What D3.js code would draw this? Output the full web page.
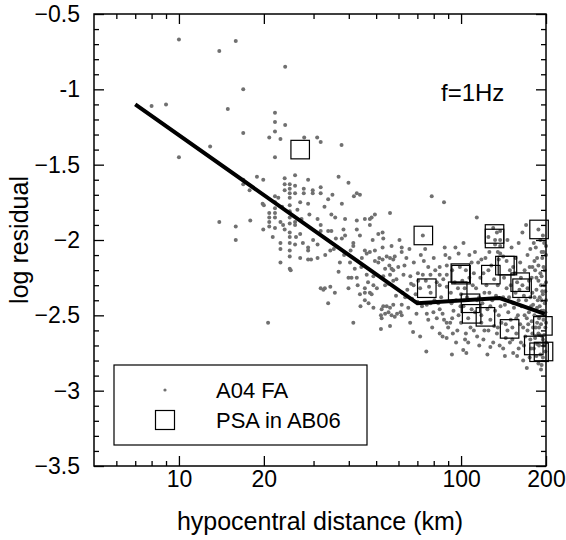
<!DOCTYPE html>
<html><head><meta charset="utf-8">
<script src="https://cdn.jsdelivr.net/npm/d3@7"></script>
<style>body{margin:0;background:#fff}svg text{font-family:"Liberation Sans",Arial,Helvetica,sans-serif;fill:#000}</style>
</head><body><svg id="c" width="566" height="540"></svg>
<script>
// ---- data ----
const xMajorTicks = [10, 20, 100, 200];
const xMinorTicks = [6, 7, 8, 9, 30, 40, 50, 60, 70, 80, 90];
const yMajorTicks = [-0.5, -1, -1.5, -2, -2.5, -3, -3.5];
const yTickLabels = ["\u22120.5", "-1", "\u22121.5", "\u22122", "\u22122.5", "\u22123", "\u22123.5"];
const yMinorTicks = [-0.6,-0.7,-0.8,-0.9,-1.1,-1.2,-1.3,-1.4,-1.6,-1.7,-1.8,-1.9,-2.1,-2.2,-2.3,-2.4,-2.6,-2.7,-2.8,-2.9,-3.1,-3.2,-3.3,-3.4];
const xTitle = "hypocentral distance (km)";
const yTitle = "log residual";
const annotation = "f=1Hz";
const legendLabels = ["A04 FA", "PSA in AB06"];

// A04 FA points: [distance km, log residual]
const faPoints = [
[8.0,-1.11],[9.0,-1.10],[10,-0.67],[10,-1.45],[12.9,-1.38],[13.9,-0.745],[14.9,-1.13],[15.9,-0.68],[16.9,-1.0],[16.9,-1.29],
[13.9,-1.88],[15.9,-1.91],[15.9,-2.0],[16.9,-1.60],[16.9,-1.63],[17.8,-1.67],[17.9,-1.87],[20.7,-2.55],
[18.9,-1.58],[19.9,-1.60],[19.8,-1.76],[20,-1.77],[20.9,-1.85],[20.9,-1.88],[20.9,-1.91],[21.9,-1.71],[21.9,-1.75],[21.9,-1.79],
[21.9,-1.82],[21.9,-1.85],[21.9,-1.92],[21.9,-1.155],[21.9,-1.217],[21.9,-1.28],[21.9,-1.45],[23.8,-1.237],[20.9,-1.32],[22.9,-1.33],
[23.8,-0.85],[22.9,-1.88],[23.4,-1.90],[23.7,-1.93],[22.9,-2.02],[22.9,-2.06],[22.9,-2.15],[23.7,-1.59],[23.7,-1.63],[23.7,-1.67],
[24.7,-1.63],[24.7,-1.66],[24.7,-1.69],[24.7,-1.72],[24.7,-1.77],[24.7,-1.81],[24.7,-1.85],[24.7,-1.89],[24.7,-1.95],[24.7,-1.98],
[24.7,-2.02],[24.7,-2.07],[24.7,-2.11],[24.7,-2.19],[24.9,-2.2],[25.8,-1.57],[25.8,-1.64],[25.8,-1.69],[25.8,-1.88],[25.8,-1.90],
[25.8,-2.03],[26.9,-1.75],[26.9,-1.96],[26.9,-2.12],[27.7,-1.66],[27.7,-1.69],[27.8,-1.32],[28.7,-1.6],[28.7,-1.76],[28.7,-2.05],
[28.7,-2.07],[28.7,-2.13],[29.8,-1.67],[29.8,-1.69],[29.9,-2.0],[29.4,-2.13],[20.9,-1.82],[19.9,-1.93],[22.5,-1.72],[26.3,-1.8],
[27.2,-1.86],[23.2,-1.78],[26,-1.98],[27.5,-2.02],[21.5,-1.98],[29,-1.83],
[30.9,-1.32],[31.8,-1.35],[37.7,-1.37],[31,-1.86],[31,-2.03],[31.8,-1.65],[31.8,-1.69],[31.8,-1.90],[31.8,-1.94],[31,-2.12],
[33.8,-1.73],[33.8,-1.94],[34.7,-1.94],[34.7,-1.83],[35.8,-1.85],[34.4,-2.07],[35.4,-2.06],[36.8,-1.58],[37.2,-2.15],[36.8,-2.21],
[31.8,-2.32],[32.9,-2.32],[34.4,-2.31],[33.8,-2.42],[32.5,-2.33],[35.7,-2.35],[32.8,-1.78],[36,-1.99],[33,-2.1],[35,-1.7],
[39.9,-1.62],[42.7,-1.69],[43.8,-1.70],[41.7,-1.71],[37.8,-1.76],[38.8,-1.86],[42.7,-1.87],[45.6,-1.86],[47.5,-1.86],[47.5,-1.90],
[48.2,-1.85],[49.5,-1.83],[38.3,-1.93],[38.8,-1.97],[37.8,-1.99],[42.7,-1.93],[43.8,-1.97],[41.5,-2.02],[41.5,-2.04],[48.6,-2.0],
[40.6,-2.07],[45.6,-2.07],[46.3,-2.09],[47.5,-2.08],[49.5,-2.07],[40.4,-2.15],[42.0,-2.19],[44.3,-2.18],[40.9,-2.25],[42.7,-2.25],
[39.9,-2.25],[46.3,-2.23],[48.9,-2.24],[49.5,-2.14],[39.9,-2.32],[45.6,-2.32],[48.9,-2.30],[43.8,-2.36],[45.6,-2.35],[47.5,-2.35],
[48.2,-2.36],[45.6,-2.40],[48.9,-2.45],[41.5,-2.55],[44.5,-2.12],[38.5,-2.1],[46.8,-2.28],[43,-2.3],[47,-2.42],[44,-2.44],
[50.9,-1.96],[52.7,-1.95],[53,-1.99],[52.7,-2.05],[56,-1.82],[56.7,-2.04],[61.6,-2.05],[61.6,-2.08],[65.6,-2.06],[74.6,-2.06],
[73.2,-1.97],[78.7,-1.71],[87,-1.75],[51.3,-2.12],[52.7,-2.13],[54.5,-2.11],[56,-2.12],[57.5,-2.13],[58.2,-2.11],[50.9,-2.15],
[53.8,-2.19],[55.7,-2.17],[56.7,-2.19],[57.5,-2.2],[59.9,-2.18],[53,-2.24],[56,-2.23],[57.5,-2.27],[55.3,-2.29],[62.5,-2.23],
[66.1,-2.24],[70.3,-2.22],[73.2,-2.23],[76.5,-2.18],[77.9,-2.23],[84,-2.18],[89,-2.17],[84,-2.23],[89,-2.23],[67.9,-2.30],
[71.6,-2.32],[84,-2.30],[89,-2.31],[50.3,-2.32],[53.8,-2.30],[53,-2.44],[52.3,-2.46],[54.5,-2.44],[56,-2.45],[57.5,-2.43],
[59.3,-2.49],[61,-2.48],[61.6,-2.50],[52,-2.50],[53.8,-2.49],[55.3,-2.48],[56.7,-2.50],[58.2,-2.51],[52.3,-2.52],[61.6,-2.43],
[52,-2.59],[56,-2.57],[63.4,-2.38],[67,-2.39],[70,-2.41],[72.7,-2.44],[75.6,-2.43],[67.6,-2.61],[71.6,-2.64],[75.3,-2.74],
[75.6,-2.49],[76.5,-2.53],[79.8,-2.48],[82,-2.52],[84,-2.46],[86,-2.49],[87,-2.53],[88.9,-2.55],[90,-2.58],[84,-2.62],
[86,-2.64],[88.9,-2.65],[60.5,-2.0],[64,-2.12],[68,-2.15],[72,-2.1],[75,-2.27],[78,-2.35],[80,-2.12],[82,-2.28],
[85,-2.38],[87.5,-2.05],[64.5,-2.33],[69,-2.36],[80.5,-2.40],[83,-2.42],[66,-2.55],[79,-2.58],[62,-2.35],[58.8,-2.37],[73.8,-2.14],
[63,-2.17],[66.5,-2.29],[70.5,-2.27],[77,-2.31],[81,-2.2],[86.5,-2.26],[88,-2.1],[59,-2.26],[65,-2.45],[69.5,-2.49],[78,-2.42],
[113.7,-1.85],[98,-2.09],[118,-2.13],[125,-2.20],[125,-1.98],[137.6,-1.94],[137.6,-2.0],[132,-2.0],[137.6,-2.04],[188,-1.93],
[197,-2.02],[200,-2.04],[193,-2.08],[137.6,-2.09],[141,-2.11],[136,-2.13],[145,-2.14],[153,-2.18],[149,-2.2],
[103.3,-2.66],[101.8,-2.73],[104.4,-2.75],[92.8,-2.76],[120,-2.66],[127,-2.71],[143,-2.77],[153,-2.75],[171,-2.85],[166,-2.80],
[193,-2.83],[188,-2.82],
[91,-2.12],[93,-2.2],[95,-2.28],[92,-2.35],[96,-2.4],[94,-2.47],[98,-2.5],[91.5,-2.55],[97,-2.6],[99,-2.18],[101,-2.27],[103,-2.32],
[105,-2.38],[102,-2.44],[106,-2.52],[108,-2.58],[104,-2.62],[109,-2.15],[107,-2.25],[110,-2.3],[100,-2.36],[96,-2.68],[93.5,-2.62],
[95.5,-2.05],[102,-2.02],[107,-2.1],[109,-2.46],[106,-2.68],[92.5,-2.42],[97.5,-2.32],[104,-2.2],[100,-2.55],[93,-2.52],[99.5,-2.44],
[112,-2.08],[115,-2.15],[117,-2.25],[113,-2.32],[116,-2.38],[119,-2.42],[112,-2.48],[118,-2.55],[121,-2.6],[114,-2.64],[123,-2.3],
[126,-2.35],[129,-2.4],[124,-2.46],[127,-2.53],[131,-2.57],[134,-2.62],[122,-2.12],[128,-2.17],[131,-2.26],[135,-2.3],[133,-2.37],
[138,-2.44],[136,-2.5],[139,-2.55],[130,-2.68],[137,-2.7],[132,-2.03],[134,-1.95],[130,-1.92],[135,-2.08],[126,-2.08],[120,-2.22],
[116,-2.7],[124,-2.76],[111,-2.6],[114,-2.4],[121,-2.35],[127,-2.44],[132,-2.47],[118,-2.5],[125,-2.6],[135,-2.58],[111,-2.22],
[142,-2.25],[145,-2.32],[148,-2.38],[143,-2.43],[147,-2.48],[150,-2.53],[146,-2.6],[152,-2.66],[141,-2.72],[155,-2.22],[158,-2.28],
[156,-2.35],[160,-2.4],[154,-2.45],[159,-2.5],[162,-2.56],[157,-2.62],[163,-2.68],[160,-2.72],[165,-2.3],[167,-2.37],[164,-2.44],
[168,-2.5],[166,-2.58],[169,-2.64],[151,-2.05],[156,-2.12],[162,-2.15],[168,-2.2],[146,-2.0],[160,-2.02],[165,-1.95],[149,-2.68],
[158,-2.77],[144,-2.56],[153,-2.42],[150,-2.3],[163,-2.25],[141,-2.38],[157,-2.52],[152,-2.58],[167,-2.7],[144,-2.65],[161,-2.33],
[172,-2.1],[175,-2.18],[178,-2.25],[172,-2.32],[176,-2.38],[180,-2.43],[174,-2.48],[178,-2.54],[172,-2.6],[176,-2.66],[181,-2.72],
[175,-2.78],[184,-2.05],[186,-2.12],[183,-2.2],[188,-2.27],[185,-2.33],[190,-2.38],[186,-2.45],[189,-2.52],[184,-2.58],[190,-2.63],
[186,-2.69],[191,-2.76],[194,-2.12],[196,-2.18],[193,-2.24],[197,-2.3],[195,-2.36],[198,-2.42],[193,-2.47],[196,-2.53],[199,-2.58],
[194,-2.64],[197,-2.7],[195,-2.78],[192,-2.86],[198,-2.2],[199,-2.34],[199,-2.48],[191,-2.0],[195,-1.97],[182,-2.14],[179,-2.35],
[187,-2.4],[182,-2.5],[177,-2.44],[183,-2.65],[179,-2.62],[170,-2.4],[171,-2.52],[174,-2.27],[192,-2.3],[197,-2.63],[189,-2.58],
[185,-2.77],[181,-2.02],[176,-2.06],[170,-1.9],[200,-2.1],[200,-2.28],[200,-2.4],[200,-2.55],[200,-2.68],
[188,-2.17],[191,-2.22],[194,-2.34],[190,-2.44],[196,-2.47],[192,-2.56],[188,-2.62],[195,-2.66],[199,-2.74],[182,-2.38],
[179,-2.18],[185,-2.25],[173,-2.56],[180,-2.58],[186,-2.55],[198,-2.5],[193,-2.4],[177,-2.72],[189,-2.7],[196,-2.08]
];

// PSA in AB06 squares
const psaPoints = [
[26.9,-1.40],[73.5,-1.97],[131.4,-1.96],[131.4,-1.99],[189,-1.93],[143,-2.17],[146,-2.17],[127.5,-2.23],[99.4,-2.22],[100,-2.23],
[162,-2.28],[164.5,-2.32],[75.6,-2.32],[97.3,-2.34],[108,-2.42],[109,-2.49],[122,-2.51],[148.6,-2.59],[195,-2.57],[181,-2.70],
[189,-2.745],[196,-2.74]
];

// thick trend line
const trendLine = [[7,-1.1],[70,-2.42],[137,-2.385],[198,-2.49]];

// ---- drawing ----
const svg = d3.select("#c");
const L = 94, T = 14, W = 452, H = 452;
const x = d3.scaleLog().domain([5, 200]).range([L, L + W]);
const y = d3.scaleLinear().domain([-3.5, -0.5]).range([T + H, T]);
const FONT = '"Liberation Sans",Arial,Helvetica,sans-serif';

const g = svg.append("g");

g.append("g").selectAll("circle").data(faPoints).join("circle")
  .attr("cx", d => x(d[0])).attr("cy", d => y(d[1])).attr("r", 2).attr("fill", "#707070");

const S = 18.5;
g.append("g").selectAll("rect").data(psaPoints).join("rect")
  .attr("x", d => x(d[0]) - S / 2).attr("y", d => y(d[1]) - S / 2)
  .attr("width", S).attr("height", S)
  .attr("fill", "none").attr("stroke", "#000").attr("stroke-width", 1.2);

g.append("path").datum(trendLine)
  .attr("d", d3.line().x(d => x(d[0])).y(d => y(d[1])))
  .attr("fill", "none").attr("stroke", "#000").attr("stroke-width", 4).attr("stroke-linejoin", "miter");

function styleAxis(sel) {
  sel.select(".domain").remove();
  sel.selectAll(".tick line").attr("stroke", "#000").attr("stroke-width", 1.3);
  sel.selectAll("text").attr("font-size", 23).attr("font-family", FONT).attr("fill", "#000");
}
svg.append("g").attr("transform", `translate(0,${T + H})`)
  .call(d3.axisBottom(x).tickValues(xMajorTicks).tickSize(-10).tickPadding(5).tickFormat(d3.format("d")))
  .call(styleAxis);
svg.append("g").attr("transform", `translate(0,${T + H})`)
  .call(d3.axisBottom(x).tickValues(xMinorTicks).tickSize(-5).tickFormat(""))
  .call(styleAxis);
svg.append("g").attr("transform", `translate(0,${T})`)
  .call(d3.axisTop(x).tickValues(xMajorTicks).tickSize(-10).tickFormat(""))
  .call(styleAxis);
svg.append("g").attr("transform", `translate(0,${T})`)
  .call(d3.axisTop(x).tickValues(xMinorTicks).tickSize(-5).tickFormat(""))
  .call(styleAxis);
svg.append("g").attr("transform", `translate(${L},0)`)
  .call(d3.axisLeft(y).tickValues(yMajorTicks).tickSize(-10).tickPadding(14).tickFormat((d, i) => yTickLabels[i]))
  .call(styleAxis);
svg.append("g").attr("transform", `translate(${L},0)`)
  .call(d3.axisLeft(y).tickValues(yMinorTicks).tickSize(-5).tickFormat(""))
  .call(styleAxis);
svg.append("g").attr("transform", `translate(${L + W},0)`)
  .call(d3.axisRight(y).tickValues(yMajorTicks).tickSize(-10).tickFormat(""))
  .call(styleAxis);
svg.append("g").attr("transform", `translate(${L + W},0)`)
  .call(d3.axisRight(y).tickValues(yMinorTicks).tickSize(-5).tickFormat(""))
  .call(styleAxis);

svg.append("rect").attr("x", L).attr("y", T).attr("width", W).attr("height", H)
  .attr("fill", "none").attr("stroke", "#000").attr("stroke-width", 1.5);

svg.append("text").attr("x", L + W / 2).attr("y", 530).attr("text-anchor", "middle")
  .attr("font-size", 25).text(xTitle);
svg.append("text").attr("transform", `translate(28,${T + H / 2}) rotate(-90)`).attr("text-anchor", "middle")
  .attr("font-size", 25).text(yTitle);
svg.append("text").attr("x", 441).attr("y", 101).attr("font-size", 24).text(annotation);

const lg = svg.append("g");
lg.append("rect").attr("x", 114).attr("y", 365).attr("width", 253).attr("height", 80)
  .attr("fill", "#fff").attr("stroke", "#000").attr("stroke-width", 1.2);
lg.append("circle").attr("cx", 165).attr("cy", 390).attr("r", 1.6).attr("fill", "#707070");
lg.append("rect").attr("x", 165 - 9.5).attr("y", 420 - 9.5).attr("width", 19).attr("height", 19)
  .attr("fill", "none").attr("stroke", "#000").attr("stroke-width", 1.2);
lg.append("text").attr("x", 216).attr("y", 398).attr("font-size", 22).text(legendLabels[0]);
lg.append("text").attr("x", 216).attr("y", 428).attr("font-size", 22).text(legendLabels[1]);
</script></body></html>
